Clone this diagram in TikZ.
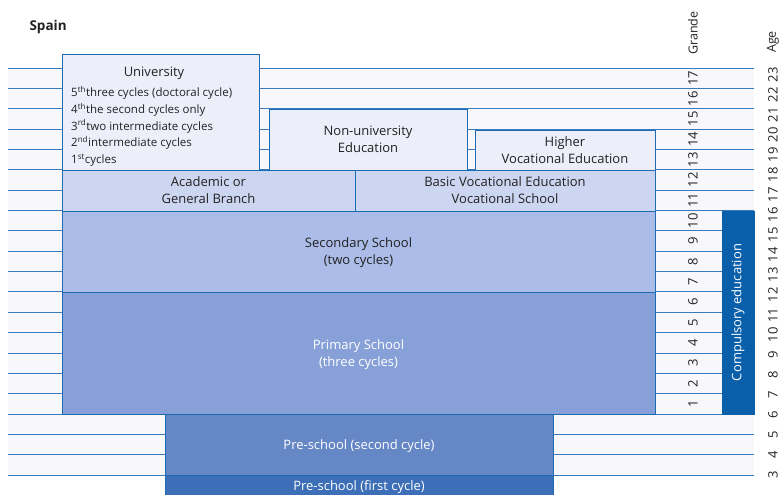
\documentclass[tikz,border=0pt]{standalone}
\usepackage{fontspec}
\setmainfont{Open Sans}
\usetikzlibrary{positioning}
\definecolor{stripe}{HTML}{F7F7FC}
\definecolor{bline}{HTML}{1F6BB3}
\definecolor{sline}{HTML}{3A7BC0}
\definecolor{txt}{HTML}{222222}
\definecolor{lvlA}{HTML}{ECEFFA}
\definecolor{lvlB}{HTML}{CDD6F1}
\definecolor{lvlC}{HTML}{AABCE7}
\definecolor{lvlD}{HTML}{87A1D8}
\definecolor{lvlE}{HTML}{6587C6}
\definecolor{lvlF}{HTML}{3D6FB8}
\definecolor{compul}{HTML}{0A5FAB}

\begin{document}
\begin{tikzpicture}[x=1pt, y=-1pt,
  blk/.style={draw=bline, line width=0.9pt, anchor=north west, inner sep=0pt,
              outer sep=0pt, align=center, text=txt, text depth=-1.5pt,
              font=\fontsize{13}{17}\selectfont},
  size/.style 2 args={minimum width=#1, minimum height=#2},
  wtxt/.style={text=white},
  num/.style={rotate=90, text=txt, font=\fontsize{13}{15}\selectfont, inner sep=0pt},
  head/.style={rotate=90, anchor=west, text=txt, font=\fontsize{12.5}{14}\selectfont, inner sep=0pt},
]
\useasboundingbox (0,0) rectangle (782,495);
\def\rh{20.35}

% === Age stripes ===
\fill[stripe] (8,68) rectangle (754,{68+20*\rh});
\foreach \i in {0,...,20}
  \draw[sline, line width=0.8pt] (8,{68+\i*\rh}) -- (754,{68+\i*\rh});

% === Title ===
\node[anchor=west, font=\fontsize{13.5}{15}\selectfont\bfseries, text=txt] (spain) at (26,27) {Spain};

% === Higher education ===
\node[blk, fill=lvlA, size={197pt}{116pt}] (uni) at (62,54) {};
\node[text=txt, font=\fontsize{13}{15}\selectfont] (unititle) at (154,73) {University};
\node[anchor=north west, align=left, text=txt, inner sep=0pt,
      font=\fontsize{11.5}{16.7}\selectfont] (unicycles) at (71,86)
  {5\textsuperscript{th}three cycles (doctoral cycle)\\
   4\textsuperscript{th}the second cycles only\\
   3\textsuperscript{rd}two intermediate cycles\\
   2\textsuperscript{nd}intermediate cycles\\
   1\textsuperscript{st}cycles};

\node[blk, fill=lvlA, size={198pt}{61pt}] (nonuni) at (269,109) {Non-university\\Education};
\node[blk, fill=lvlA, size={180pt}{40pt}] (highvoc) at (475,130) {Higher\\Vocational Education};

% === Upper secondary ===
\node[blk, fill=lvlB, size={293pt}{41pt}] (acad) at (62,170) {Academic or\\General Branch};
\node[blk, fill=lvlB, size={300pt}{41pt}] (basicvoc) at (355,170) {Basic Vocational Education\\Vocational School};

% === Compulsory levels ===
\node[blk, fill=lvlC, size={593pt}{81pt}] (second) at (62,211) {Secondary School\\(two cycles)};
\node[blk, fill=lvlD, size={593pt}{122pt}, wtxt] (primary) at (62,292) {Primary School\\(three cycles)};

% === Pre-school ===
\node[blk, fill=lvlE, size={388pt}{61pt}, wtxt] (pre2) at (165,414) {Pre-school (second cycle)};
\node[blk, fill=lvlF, size={388pt}{21pt}, wtxt] (pre1) at (165,475) {Pre-school (first cycle)};

% === Compulsory education bar ===
\node[blk, fill=compul, draw=compul, size={32pt}{203pt}] (compbar) at (722,211) {};
\node[rotate=90, text=white, font=\fontsize{13}{15}\selectfont] (complbl) at (compbar.center) {Compulsory education};

% === Grade and age scales ===
\node[head] (grade) at (693,55) {Grande};
\node[head] (age) at (773,53) {Age};
\foreach \g in {1,...,17}
  \node[num] (g\g) at (693,{414-(\g-0.5)*\rh}) {\g};
\foreach \a in {3,...,23}
  \node[num] (a\a) at (773,{75+(23-\a)*20}) {\a};

\end{tikzpicture}
\end{document}
